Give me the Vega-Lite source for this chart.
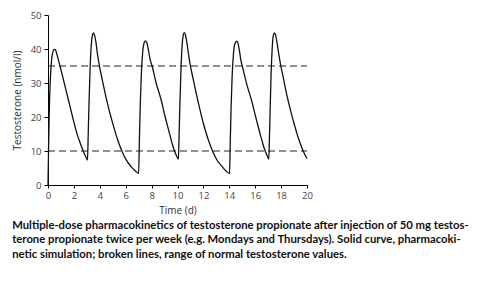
{
  "$schema": "https://vega.github.io/schema/vega-lite/v6.json",
  "width": 259,
  "height": 170,
  "autosize": {"type": "none"},
  "padding": {"left": 48, "top": 15, "right": 170, "bottom": 102},
  "background": "white",
  "config": {
    "view": {"stroke": null},
    "font": "Open Sans",
    "axis": {
      "grid": false,
      "domainColor": "#000000",
      "domainWidth": 1,
      "tickColor": "#000000",
      "tickSize": 4,
      "labelColor": "#444444",
      "labelFont": "Open Sans",
      "labelFontSize": 9.5,
      "labelFontWeight": 400,
      "labelOverlap": false,
      "titleFont": "Open Sans",
      "titleFontSize": 10,
      "titleFontWeight": 400,
      "titleColor": "#333333"
    }
  },
  "title": {
    "text": [
      "Multiple-dose pharmacokinetics of testosterone propionate after injection of 50 mg testos-",
      "terone propionate twice per week (e.g. Mondays and Thursdays). Solid curve, pharmacoki-",
      "netic simulation; broken lines, range of normal testosterone values."
    ],
    "orient": "bottom",
    "anchor": "start",
    "frame": "bounds",
    "font": "Lato",
    "fontSize": 11.3,
    "fontWeight": "bold",
    "color": "#111111",
    "lineHeight": 14.5,
    "offset": 4,
    "dx": 0
  },
  "datasets": {
    "curve": [
      {"t": 0, "v": 0}, {"t": 0.04, "v": 10}, {"t": 0.1, "v": 22}, {"t": 0.18, "v": 31}, {"t": 0.27, "v": 36.5},
      {"t": 0.37, "v": 39}, {"t": 0.47, "v": 39.9}, {"t": 0.57, "v": 39.8}, {"t": 0.68, "v": 38.5}, {"t": 0.8, "v": 36.8},
      {"t": 0.94, "v": 34.8}, {"t": 1.2, "v": 30.8}, {"t": 1.58, "v": 25}, {"t": 1.9, "v": 20}, {"t": 2.23, "v": 15.2},
      {"t": 2.5, "v": 12.2}, {"t": 2.74, "v": 9.8}, {"t": 2.92, "v": 8.3}, {"t": 3.05, "v": 7.3},
      {"t": 3.1, "v": 14}, {"t": 3.16, "v": 23}, {"t": 3.24, "v": 33}, {"t": 3.32, "v": 40}, {"t": 3.42, "v": 43.8},
      {"t": 3.51, "v": 44.7}, {"t": 3.6, "v": 44}, {"t": 3.7, "v": 42}, {"t": 3.82, "v": 38.5}, {"t": 3.98, "v": 34.8},
      {"t": 4.2, "v": 30.8}, {"t": 4.41, "v": 27}, {"t": 4.7, "v": 22.3}, {"t": 5.0, "v": 18.1}, {"t": 5.35, "v": 13.6},
      {"t": 5.73, "v": 9.8}, {"t": 6.05, "v": 7.3}, {"t": 6.42, "v": 5.4}, {"t": 6.75, "v": 4.1}, {"t": 7.0, "v": 3.4},
      {"t": 7.05, "v": 12}, {"t": 7.12, "v": 23}, {"t": 7.2, "v": 32}, {"t": 7.3, "v": 38.5}, {"t": 7.4, "v": 41.5},
      {"t": 7.52, "v": 42.4}, {"t": 7.62, "v": 42}, {"t": 7.74, "v": 40}, {"t": 7.88, "v": 37}, {"t": 8.04, "v": 35},
      {"t": 8.35, "v": 30}, {"t": 8.74, "v": 25}, {"t": 9.05, "v": 20}, {"t": 9.38, "v": 15.2}, {"t": 9.6, "v": 12},
      {"t": 9.77, "v": 10}, {"t": 9.95, "v": 8.4}, {"t": 10.07, "v": 7.6},
      {"t": 10.12, "v": 14}, {"t": 10.18, "v": 23}, {"t": 10.26, "v": 33}, {"t": 10.34, "v": 40}, {"t": 10.44, "v": 44},
      {"t": 10.53, "v": 44.8}, {"t": 10.62, "v": 44.1}, {"t": 10.72, "v": 42}, {"t": 10.85, "v": 38.5}, {"t": 11.0, "v": 35},
      {"t": 11.22, "v": 31}, {"t": 11.44, "v": 27}, {"t": 11.72, "v": 22.4}, {"t": 12.0, "v": 18.1}, {"t": 12.35, "v": 13.6},
      {"t": 12.73, "v": 9.8}, {"t": 13.07, "v": 7.2}, {"t": 13.45, "v": 5.4}, {"t": 13.75, "v": 4.1}, {"t": 14.02, "v": 3.4},
      {"t": 14.07, "v": 12}, {"t": 14.14, "v": 23}, {"t": 14.22, "v": 32}, {"t": 14.32, "v": 38.5}, {"t": 14.44, "v": 41.6},
      {"t": 14.56, "v": 42.3}, {"t": 14.66, "v": 41.8}, {"t": 14.78, "v": 39.5}, {"t": 14.9, "v": 36.6}, {"t": 15.04, "v": 34.4},
      {"t": 15.35, "v": 29.6}, {"t": 15.74, "v": 24.6}, {"t": 16.05, "v": 19.8}, {"t": 16.38, "v": 15}, {"t": 16.6, "v": 12},
      {"t": 16.77, "v": 10}, {"t": 16.95, "v": 8.4}, {"t": 17.05, "v": 7.6},
      {"t": 17.1, "v": 14}, {"t": 17.16, "v": 23}, {"t": 17.23, "v": 33}, {"t": 17.31, "v": 40}, {"t": 17.4, "v": 44},
      {"t": 17.49, "v": 44.7}, {"t": 17.58, "v": 44.1}, {"t": 17.68, "v": 42}, {"t": 17.82, "v": 38.5}, {"t": 17.98, "v": 35},
      {"t": 18.2, "v": 31}, {"t": 18.41, "v": 27}, {"t": 18.7, "v": 22.4}, {"t": 19.0, "v": 18.1}, {"t": 19.35, "v": 13.6},
      {"t": 19.73, "v": 9.8}, {"t": 20, "v": 7.8}
    ],
    "range": [
      {"level": 10, "t0": 0, "t1": 20},
      {"level": 35, "t0": 0, "t1": 20}
    ]
  },
  "layer": [
    {
      "data": {"name": "range"},
      "mark": {"type": "rule", "color": "#222222", "strokeWidth": 1, "strokeDash": [7, 4]},
      "encoding": {
        "x": {
          "field": "t0", "type": "quantitative",
          "scale": {"domain": [0, 20], "nice": false},
          "axis": {"values": [0, 2, 4, 6, 8, 10, 12, 14, 16, 18, 20], "labelOverlap": false, "labelFlush": false, "title": "Time (d)", "titlePadding": 6, "labelPadding": 2, "tickSize": 3}
        },
        "x2": {"field": "t1"},
        "y": {
          "field": "level", "type": "quantitative",
          "scale": {"domain": [0, 50], "nice": false},
          "axis": {"values": [0, 10, 20, 30, 40, 50], "labelOverlap": false, "labelFlush": false, "title": "Testosterone (nmol/l)", "titlePadding": 8, "labelPadding": 3}
        }
      }
    },
    {
      "data": {"name": "curve"},
      "mark": {"type": "line", "color": "#111111", "strokeWidth": 1.3, "interpolate": "monotone"},
      "encoding": {
        "x": {
          "field": "t", "type": "quantitative",
          "scale": {"domain": [0, 20], "nice": false},
          "axis": {"values": [0, 2, 4, 6, 8, 10, 12, 14, 16, 18, 20], "labelOverlap": false, "labelFlush": false, "title": "Time (d)", "titlePadding": 6, "labelPadding": 2, "tickSize": 3}
        },
        "y": {
          "field": "v", "type": "quantitative",
          "scale": {"domain": [0, 50], "nice": false},
          "axis": {"values": [0, 10, 20, 30, 40, 50], "labelOverlap": false, "labelFlush": false, "title": "Testosterone (nmol/l)", "titlePadding": 8, "labelPadding": 3}
        }
      }
    }
  ]
}
